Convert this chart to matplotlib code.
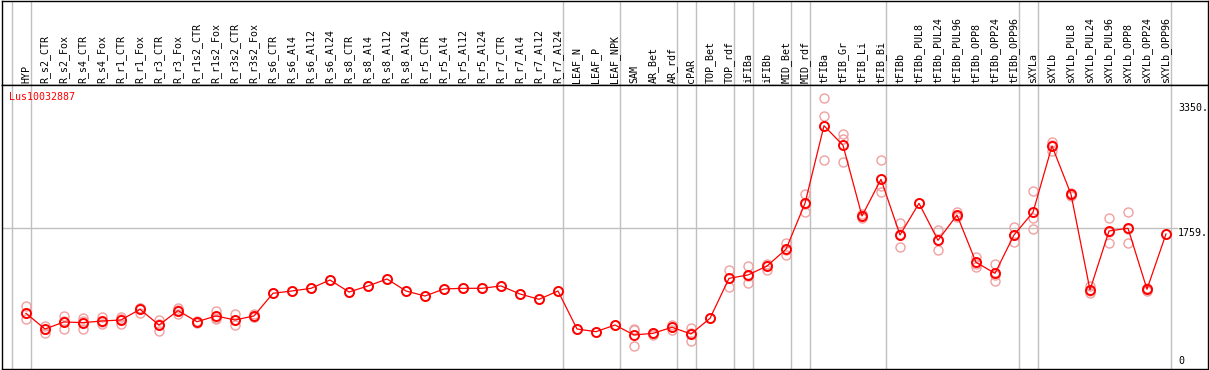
import matplotlib
matplotlib.use("Agg")
import matplotlib.pyplot as plt
import matplotlib.transforms as mtransforms

W, H = 1209, 370

labels = ["HYP", "R_s2_CTR", "R_s2_Fox", "R_s4_CTR", "R_s4_Fox", "R_r1_CTR", "R_r1_Fox",
          "R_r3_CTR", "R_r3_Fox", "R_r1s2_CTR", "R_r1s2_Fox", "R_r3s2_CTR", "R_r3s2_Fox",
          "R_s6_CTR", "R_s6_Al4", "R_s6_Al12", "R_s6_Al24", "R_s8_CTR", "R_s8_Al4",
          "R_s8_Al12", "R_s8_Al24", "R_r5_CTR", "R_r5_Al4", "R_r5_Al12", "R_r5_Al24",
          "R_r7_CTR", "R_r7_Al4", "R_r7_Al12", "R_r7_Al24", "LEAF_N", "LEAF_P", "LEAF_NPK",
          "SAM", "AR_Bet", "AR_rdf", "cPAR", "TOP_Bet", "TOP_rdf", "iFIBa", "iFIBb",
          "MID_Bet", "MID_rdf", "tFIBa", "tFIB_Gr", "tFIB_Li", "tFIB_Bi", "tFIBb",
          "tFIBb_PUL8", "tFIBb_PUL24", "tFIBb_PUL96", "tFIBb_OPP8", "tFIBb_OPP24",
          "tFIBb_OPP96", "sXYLa", "sXYLb", "sXYLb_PUL8", "sXYLb_PUL24", "sXYLb_PUL96",
          "sXYLb_OPP8", "sXYLb_OPP24", "sXYLb_OPP96"]

means = [673, 473, 563, 554, 575, 588, 724, 524, 707, 566, 639, 588, 639,
         928, 957, 991, 1097, 944, 1021, 1110, 957, 893, 983, 991, 991,
         1021, 919, 851, 957, 473, 439, 524,
         397, 418, 495, 410, 609, 1118, 1161, 1275, 1488, 2073,
         3061, 2811, 1912, 2379, 1670, 2073, 1602, 1924, 1322, 1182, 1670,
         1959, 2803, 2188, 970, 1721, 1755, 979, 1683]

replicates = [[766, 673, 597], [512, 473, 427], [639, 581, 469], [613, 580, 469],
              [622, 566, 537], [630, 597, 537], [745, 745, 681], [588, 532, 452],
              [745, 712, 664], [575, 568, 555], [702, 618, 597], [660, 584, 520],
              [664, 631, 622],
              [928], [957], [991], [1097], [944], [1021], [1110], [957], [893], [983],
              [991], [991], [1021], [919], [851], [957], [473], [439], [524],
              [473, 455, 261], [428, 425, 400], [524, 500, 461], [482, 420, 325], [609],
              [1224, 1125, 1004], [1275, 1150, 1055], [1300, 1290, 1224],
              [1564, 1480, 1415], [2188, 2070, 1959],
              [3410, 3184, 2621], [2955, 2888, 2595], [1940, 1910, 1885],
              [2621, 2293, 2213], [1819, 1680, 1513], [2073], [1730, 1600, 1475],
              [1959, 1915, 1900], [1394, 1305, 1267], [1301, 1165, 1080],
              [1768, 1665, 1577],
              [2226, 1882, 1750], [2853, 2815, 2739], [2210, 2185, 2170],
              [1021, 960, 928], [1886, 1710, 1568], [1959, 1740, 1568],
              [1000, 977, 960], [1683]]

# last sample index of each group (group separators)
group_ends = [-1, 0, 28, 31, 34, 35, 37, 38, 40, 41, 45, 52, 53, 60]
ytick_values = [3350, 1759]
gene = "Lus10032887"

plt.rcParams['font.family'] = ['DejaVu Sans Mono']
fig = plt.figure(figsize=(W / 100, H / 100), dpi=100)

left, right = 2 / W, 1208 / W
top_line, sep_line, bottom_line = 0.5, 85, 369
hax = fig.add_axes([left, (H - sep_line) / H, right - left, (sep_line - top_line) / H])
ax = fig.add_axes([left, (H - bottom_line) / H, right - left, (bottom_line - sep_line) / H])
ax.set_zorder(2)

xs = list(range(len(labels)))
xlim = (-24 / 19, (1208 - 26) / 19)
ylim = (-36, 3579)

for a in (hax, ax):
    a.set_xlim(*xlim)
    for s in a.spines.values():
        s.set_color("black")
        s.set_linewidth(1.0)
    for g in group_ends:
        a.axvline(g + 0.25, color="#c0c0c0", lw=1.0, zorder=0)
hax.set_ylim(0, 1)
hax.set_xticks([])
hax.set_yticks([])

ax.set_ylim(*ylim)
ax.set_yticks([])
ax.axhline(1759, xmax=(1177 - 2) / 1206, color="#c0c0c0", lw=1.0, zorder=0)

ax.xaxis.tick_top()
ax.set_xticks(xs)
ax.set_xticklabels(labels, rotation=90, fontsize=7.2)
ax.tick_params(axis="x", length=0, pad=1.5)

# replicates
for x, reps in zip(xs, replicates):
    ax.plot([x] * len(reps), reps, linestyle="none", marker="o", ms=6.5,
            mfc="none", mec="#f0a0a0", mew=1.0, zorder=3)

ax.plot(xs, means, color="#ff0000", lw=0.9, zorder=4)
ax.plot(xs, means, linestyle="none", marker="o", ms=6.5, mfc="none",
        mec="#ff0000", mew=1.4, zorder=5)

trans = mtransforms.blended_transform_factory(ax.transAxes, ax.transData)
lx = (1178 - 2) / 1206
for v in ytick_values:
    ax.text(lx, v, f"{v}.", transform=trans, fontsize=7.2, va="top", ha="left")
ax.text(lx, 0, "0", transform=trans, fontsize=7.2, va="bottom", ha="left")

ax.text((9.3 - 2) / 1206, 1 - (97 - 85) / 284, gene, transform=ax.transAxes,
        color="#ff0000", fontsize=7.2, va="center", ha="left")

fig.savefig("out.png", dpi=100)
